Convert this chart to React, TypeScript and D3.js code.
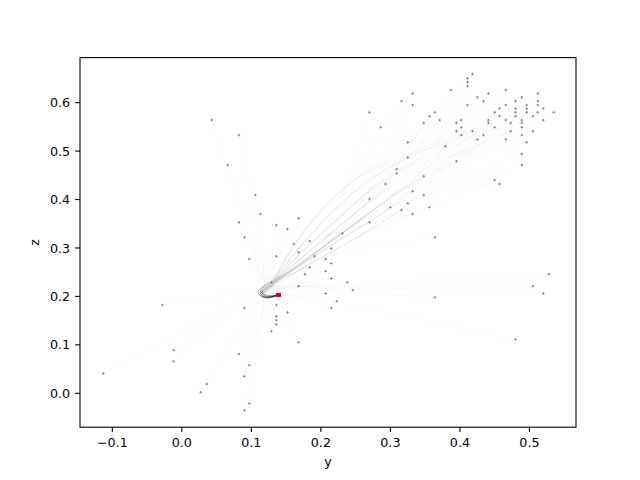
import React from 'react';
import * as d3 from 'd3';

// ------- Data -------
const yTicks = [-0.1, 0.0, 0.1, 0.2, 0.3, 0.4, 0.5];
const zTicks = [0.0, 0.1, 0.2, 0.3, 0.4, 0.5, 0.6];
const yDomain: [number, number] = [-0.1465, 0.567];
const zDomain: [number, number] = [-0.07, 0.693];

// start of all runs (red)
const startPoint: [number, number] = [0.139, 0.203];

// the loop right after the start, a few slightly different routes
const loopPaths: [number, number][][] = [
  [[0.139, 0.203], [0.122, 0.196], [0.108, 0.208], [0.122, 0.22]],
  [[0.139, 0.203], [0.125, 0.198], [0.111, 0.206], [0.126, 0.221]],
  [[0.139, 0.203], [0.119, 0.195], [0.105, 0.209], [0.119, 0.223]],
  [[0.139, 0.203], [0.123, 0.2], [0.109, 0.211], [0.123, 0.226]],
  [[0.139, 0.203], [0.121, 0.193], [0.107, 0.204], [0.125, 0.217]],
  [[0.139, 0.203], [0.124, 0.195], [0.11, 0.203], [0.128, 0.215]],
];

// routes of the bundle heading up-right
const bundlePaths: [number, number][][] = [
  [[0.151, 0.248], [0.19, 0.29], [0.25, 0.35], [0.32, 0.43]],
  [[0.146, 0.252], [0.178, 0.3], [0.232, 0.37], [0.3, 0.46]],
  [[0.158, 0.245], [0.205, 0.284], [0.275, 0.34], [0.36, 0.42]],
  [[0.142, 0.258], [0.165, 0.318], [0.212, 0.4], [0.28, 0.48]],
  [[0.155, 0.25], [0.198, 0.295], [0.262, 0.365], [0.34, 0.445]],
  [[0.149, 0.25], [0.185, 0.296], [0.24, 0.36], [0.31, 0.445]],
  [[0.153, 0.247], [0.195, 0.288], [0.258, 0.343], [0.335, 0.415]],
  [[0.144, 0.255], [0.172, 0.308], [0.222, 0.385], [0.29, 0.47]],
];

// final (y, z) of each run
const endPoints: [number, number][] = [
  [0.043, 0.564], [0.082, 0.533], [0.066, 0.471], [0.106, 0.409], [0.113, 0.37],
  [0.082, 0.353], [0.136, 0.347], [0.152, 0.339], [0.168, 0.361], [0.09, 0.322],
  [0.161, 0.308], [0.184, 0.314],
  [0.418, 0.659], [0.411, 0.65], [0.411, 0.642], [0.411, 0.634], [0.332, 0.619],
  [0.387, 0.626], [0.425, 0.611], [0.441, 0.619], [0.466, 0.626], [0.489, 0.611],
  [0.512, 0.619], [0.316, 0.603], [0.332, 0.595], [0.411, 0.595], [0.434, 0.603],
  [0.466, 0.595], [0.48, 0.603], [0.496, 0.595], [0.496, 0.588], [0.512, 0.603],
  [0.512, 0.595], [0.52, 0.588], [0.27, 0.58], [0.364, 0.58], [0.356, 0.572],
  [0.371, 0.564], [0.348, 0.558], [0.45, 0.58], [0.457, 0.588], [0.48, 0.588],
  [0.48, 0.58], [0.496, 0.58], [0.512, 0.58], [0.535, 0.58], [0.457, 0.572],
  [0.48, 0.572], [0.505, 0.572], [0.466, 0.564], [0.489, 0.564], [0.489, 0.558],
  [0.52, 0.564], [0.395, 0.558], [0.402, 0.564], [0.441, 0.564], [0.441, 0.558],
  [0.473, 0.558], [0.286, 0.549], [0.402, 0.549], [0.45, 0.549], [0.489, 0.549],
  [0.395, 0.541], [0.418, 0.541], [0.473, 0.541], [0.505, 0.541], [0.402, 0.533],
  [0.434, 0.533], [0.489, 0.533], [0.425, 0.524], [0.466, 0.524], [0.496, 0.518],
  [0.325, 0.518], [0.379, 0.51], [0.489, 0.494], [0.325, 0.487], [0.395, 0.479],
  [0.489, 0.471], [0.309, 0.463], [0.309, 0.454], [0.348, 0.448], [0.293, 0.432],
  [0.45, 0.44], [0.457, 0.432], [0.332, 0.417], [0.348, 0.409], [0.27, 0.401],
  [0.325, 0.392], [0.3, 0.384], [0.316, 0.378], [0.356, 0.384], [0.332, 0.37],
  [0.27, 0.353], [0.231, 0.33], [0.364, 0.322],
  [0.097, 0.277], [0.136, 0.283], [0.168, 0.291], [0.191, 0.283], [0.207, 0.277],
  [0.184, 0.26], [0.177, 0.246], [0.207, 0.252], [0.129, 0.229], [0.168, 0.221],
  [0.207, 0.206], [-0.028, 0.182], [0.09, 0.176], [0.136, 0.182], [0.152, 0.167],
  [0.136, 0.159], [0.136, 0.151], [0.136, 0.142], [0.129, 0.128], [0.168, 0.105],
  [-0.012, 0.089], [-0.012, 0.066], [0.082, 0.081], [0.097, 0.058], [0.09, 0.035],
  [-0.113, 0.041], [0.036, 0.019], [0.027, 0.002], [0.097, -0.021], [0.09, -0.035],
  [0.215, 0.299], [0.215, 0.268], [0.215, 0.237], [0.238, 0.229], [0.246, 0.213],
  [0.223, 0.19], [0.215, 0.176], [0.364, 0.198], [0.528, 0.246], [0.505, 0.221],
  [0.52, 0.206], [0.48, 0.111],
];

const width = 640;
const height = 480;
const margin = { top: 57.6, right: 64, bottom: 52.8, left: 80 };
const font = '"DejaVu Sans", sans-serif';

const fmt = (v: number) => d3.format('.1f')(v).replace('-', '\u2212');

export default function App() {
  const x = d3
    .scaleLinear()
    .domain(yDomain)
    .range([margin.left, width - margin.right]);
  const y = d3
    .scaleLinear()
    .domain(zDomain)
    .range([height - margin.bottom, margin.top]);

  const line = d3
    .line<[number, number]>()
    .x((d) => x(d[0]))
    .y((d) => y(d[1]))
    .curve(d3.curveBasis);

  // each run: a loop route, then part of a bundle route if it ends up-right, then its end
  const runs = endPoints.map((e, i) => {
    const loop = loopPaths[i % loopPaths.length];
    const bundle = bundlePaths[i % bundlePaths.length];
    const via = e[0] > 0.22 && e[1] > 0.3 ? bundle.filter((b) => b[0] < e[0] - 0.03 && b[1] < e[1] - 0.03) : [];
    return [...loop, ...via, e] as [number, number][];
  });

  const x0 = margin.left;
  const x1 = width - margin.right;
  const y0 = height - margin.bottom;
  const y1 = margin.top;

  return (
    <svg
      width={width}
      height={height}
      style={{ position: 'absolute', left: 0, top: 0, background: '#fff' }}
      fontFamily={font}
    >
      <rect x={0} y={0} width={width} height={height} fill="#fff" />
      <defs>
        <clipPath id="plot">
          <rect x={x0} y={y1} width={x1 - x0} height={y0 - y1} />
        </clipPath>
      </defs>

      {/* ------- Runs ------- */}
      <g clipPath="url(#plot)">
        {runs.map((r, i) => (
          <path key={i} d={line(r) || ''} fill="none" stroke="#333" strokeOpacity={0.026} strokeWidth={0.8} />
        ))}
      </g>

      {/* ------- End markers ------- */}
      {endPoints.map((e, i) => (
        <path
          key={i}
          transform={`translate(${x(e[0])},${y(e[1])})`}
          d="M-1.3,0H1.3M0,-1.3V1.3"
          stroke="#808080"
          strokeWidth={0.9}
        />
      ))}

      {/* ------- Start ------- */}
      <rect x={x(startPoint[0]) - 2.5} y={y(startPoint[1]) - 2} width={5} height={4} fill="#e00000" />

      {/* ------- Frame ------- */}
      <rect x={x0} y={y1} width={x1 - x0} height={y0 - y1} fill="none" stroke="#000" strokeWidth={1.1} />

      {/* ------- Axes ------- */}
      {yTicks.map((t) => (
        <g key={'x' + t} transform={`translate(${x(t)},${y0})`}>
          <line y2={4.9} stroke="#000" strokeWidth={1.1} />
          <text y={9.8} dy="0.76em" textAnchor="middle" fontSize={12.7} fill="#000">
            {fmt(t)}
          </text>
        </g>
      ))}
      {zTicks.map((t) => (
        <g key={'z' + t} transform={`translate(${x0},${y(t)})`}>
          <line x2={-4.9} stroke="#000" strokeWidth={1.1} />
          <text x={-9.8} dy="0.36em" textAnchor="end" fontSize={12.7} fill="#000">
            {fmt(t)}
          </text>
        </g>
      ))}

      <text x={(x0 + x1) / 2} y={466} textAnchor="middle" fontSize={12.7} fill="#000">
        y
      </text>
      <text transform={`translate(38.5,${(y0 + y1) / 2}) rotate(-90)`} textAnchor="middle" fontSize={12.7} fill="#000">
        z
      </text>
    </svg>
  );
}
